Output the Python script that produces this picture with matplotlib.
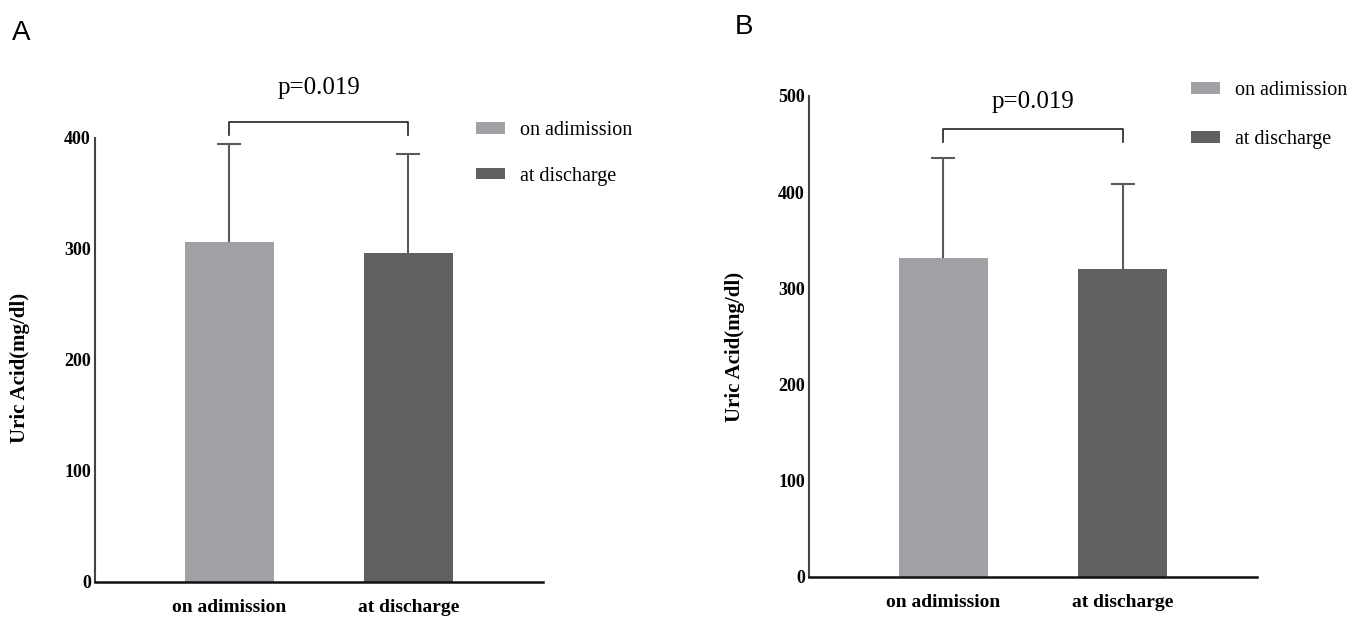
import matplotlib
matplotlib.use('Agg')
import matplotlib.pyplot as plt

# data
groups = ['on adimission', 'at discharge']
a_means = [306, 296]
a_sd = [89, 90]
b_means = [332, 320]
b_sd = [104, 88]
p_label = 'p=0.019'

bar_colors = ['#a1a0a5', '#606060']
serif = ['Liberation Serif', 'DejaVu Serif']


def draw_panel(ax, means, sd, ymax, bracket_y, bracket_ends, p_y, legend_anchor, spacing):
    x = list(range(len(groups)))
    tops = [m + s for m, s in zip(means, sd)]
    bars = ax.bar(x, means, width=0.5, color=bar_colors, zorder=2)
    # upper-only error bars, cap drawn just at the top
    ax.errorbar(x, means, yerr=[[0] * len(sd), sd], fmt='none', ecolor='#5a5a5a',
                elinewidth=1.5, capsize=0, zorder=1)
    ax.plot(x, tops, ls='none', marker='_', ms=17, mew=1.5, color='#5a5a5a', zorder=1)
    # significance bracket
    ax.plot([x[0], x[0], x[1], x[1]], [bracket_ends[0], bracket_y, bracket_y, bracket_ends[1]],
            color='#222222', lw=1.2, clip_on=False)
    ax.text((x[0] + x[1]) / 2, p_y, p_label, ha='center', va='center',
            fontsize=18, family=serif, clip_on=False)

    ax.set_xlim(-0.75, 1.75)
    ax.set_ylim(0, ymax)
    ax.set_yticks(range(0, ymax + 1, 100))
    ax.set_xticks(x)
    ax.set_xticklabels(groups)
    for lab in ax.get_xticklabels() + ax.get_yticklabels():
        lab.set_family(serif)
        lab.set_fontweight('bold')
    ax.tick_params(axis='y', length=0, pad=3, labelsize=13)
    ax.tick_params(axis='x', length=0, pad=12, labelsize=14)
    for s in ['top', 'right']:
        ax.spines[s].set_visible(False)
    ax.spines['left'].set_color('#444444')
    ax.spines['left'].set_linewidth(1.5)
    ax.spines['bottom'].set_color('#111111')
    ax.spines['bottom'].set_linewidth(1.8)

    ax.legend(bars.patches, groups, loc='upper left', bbox_to_anchor=legend_anchor,
              bbox_transform=ax.figure.transFigure, frameon=False,
              prop={'family': serif, 'size': 14.5}, handlelength=1.45, handleheight=0.5,
              labelspacing=spacing, handletextpad=0.75, borderpad=0, borderaxespad=0)


fig = plt.figure(figsize=(13.64, 6.19), dpi=100)
ax_a = fig.add_axes([0.0696, 0.0598, 0.3284, 0.7173])
ax_b = fig.add_axes([0.5931, 0.0679, 0.3284, 0.7771])

draw_panel(ax_a, a_means, a_sd, 400, 414, [403, 403], 445, (0.349, 0.804), 1.3)
draw_panel(ax_b, b_means, b_sd, 500, 466, [452, 452], 494, (0.873, 0.869), 1.5)

fig.text(20 / 1364, 1 - 368 / 619, 'Uric Acid(mg/dl)', rotation=90, ha='center', va='center',
         fontsize=15, fontweight='bold', family=serif)
fig.text(735 / 1364, 1 - 347 / 619, 'Uric Acid(mg/dl)', rotation=90, ha='center', va='center',
         fontsize=15, fontweight='bold', family=serif)

fig.text(12 / 1364, 1 - 33 / 619, 'A', fontsize=20, family=['Liberation Sans', 'DejaVu Sans'],
         ha='left', va='center')
fig.text(735 / 1364, 1 - 27 / 619, 'B', fontsize=20, family=['Liberation Sans', 'DejaVu Sans'],
         ha='left', va='center')

fig.savefig('out.png', dpi=100)
